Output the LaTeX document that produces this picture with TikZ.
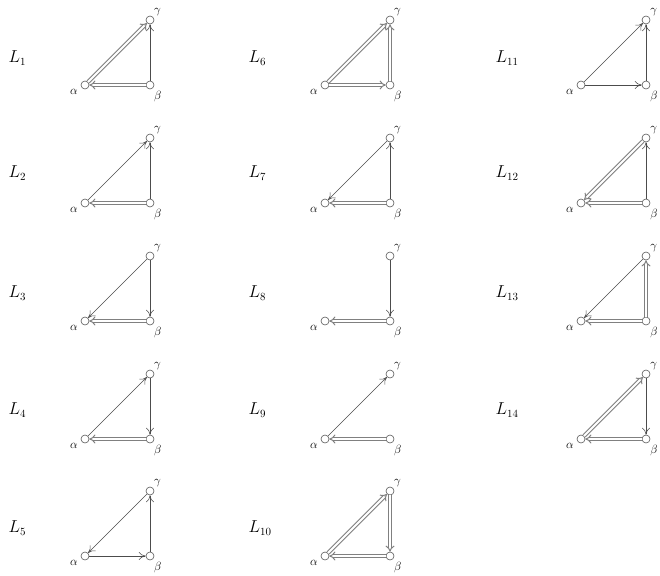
\documentclass[tikz,border=0pt]{standalone}
\usepackage{amsmath}
\usetikzlibrary{arrows.meta}

\tikzset{
  vtx/.style={circle, draw=black!65, fill=white, semithick, minimum size=8pt, inner sep=0pt},
  glab/.style={font=\large, inner sep=1pt},
  llab/.style={anchor=west, font=\fontsize{16}{19}\selectfont},
  sarr/.style={-{To[length=7pt, width=8pt]}, draw=black!70, semithick},
  darr/.style={-{Implies}, double, double distance=2pt, line width=1pt, draw=black!50}
}

% three vertices of one tournament: index, x and y of alpha
\newcommand{\vtriple}[3]{%
  \node[vtx, label={[glab, xshift=-3pt]below left:$\alpha$}] (a#1) at (#2,#3) {};
  \node[vtx, label={[glab, yshift=-2pt]below right:$\beta$}] (b#1) at (#2+65,#3) {};
  \node[vtx, label={[glab]above right:$\gamma$}] (g#1) at (#2+65,#3-65) {};
}

\begin{document}
\begin{tikzpicture}[x=1pt, y=-1pt]
\useasboundingbox (0,0) rectangle (660,575);

% column one
\node[llab] (L1) at (5,58) {$L_1$};
\vtriple{1}{85}{85}
\draw[darr] (a1) -- (g1);
\draw[sarr] (b1) -- (g1);
\draw[darr] (b1) -- (a1);

\node[llab] (L2) at (5,173) {$L_2$};
\vtriple{2}{85}{203}
\draw[sarr] (a2) -- (g2);
\draw[sarr] (b2) -- (g2);
\draw[darr] (b2) -- (a2);

\node[llab] (L3) at (5,293) {$L_3$};
\vtriple{3}{85}{321}
\draw[sarr] (g3) -- (a3);
\draw[sarr] (g3) -- (b3);
\draw[darr] (b3) -- (a3);

\node[llab] (L4) at (5,410) {$L_4$};
\vtriple{4}{85}{439}
\draw[sarr] (a4) -- (g4);
\draw[sarr] (g4) -- (b4);
\draw[darr] (b4) -- (a4);

\node[llab] (L5) at (5,528) {$L_5$};
\vtriple{5}{85}{556}
\draw[sarr] (g5) -- (a5);
\draw[sarr] (a5) -- (b5);
\draw[sarr] (b5) -- (g5);

% column two
\node[llab] (L6) at (245,58) {$L_6$};
\vtriple{6}{325}{85}
\draw[darr] (a6) -- (g6);
\draw[darr] (b6) -- (g6);
\draw[darr] (a6) -- (b6);

\node[llab] (L7) at (245,173) {$L_7$};
\vtriple{7}{325}{203}
\draw[sarr] (g7) -- (a7);
\draw[sarr] (b7) -- (g7);
\draw[darr] (b7) -- (a7);

\node[llab] (L8) at (245,293) {$L_8$};
\vtriple{8}{325}{321}
\draw[sarr] (g8) -- (b8);
\draw[darr] (b8) -- (a8);

\node[llab] (L9) at (245,410) {$L_9$};
\vtriple{9}{325}{439}
\draw[sarr] (a9) -- (g9);
\draw[darr] (b9) -- (a9);

\node[llab] (L10) at (245,528) {$L_{10}$};
\vtriple{10}{325}{556}
\draw[darr] (a10) -- (g10);
\draw[darr] (g10) -- (b10);
\draw[darr] (b10) -- (a10);

% column three
\node[llab] (L11) at (492,58) {$L_{11}$};
\vtriple{11}{581}{85}
\draw[sarr] (a11) -- (g11);
\draw[sarr] (b11) -- (g11);
\draw[sarr] (a11) -- (b11);

\node[llab] (L12) at (492,173) {$L_{12}$};
\vtriple{12}{581}{203}
\draw[darr] (g12) -- (a12);
\draw[sarr] (b12) -- (g12);
\draw[darr] (b12) -- (a12);

\node[llab] (L13) at (492,293) {$L_{13}$};
\vtriple{13}{581}{321}
\draw[sarr] (g13) -- (a13);
\draw[darr] (b13) -- (g13);
\draw[darr] (b13) -- (a13);

\node[llab] (L14) at (492,410) {$L_{14}$};
\vtriple{14}{581}{439}
\draw[darr] (a14) -- (g14);
\draw[sarr] (g14) -- (b14);
\draw[darr] (b14) -- (a14);
\end{tikzpicture}
\end{document}
